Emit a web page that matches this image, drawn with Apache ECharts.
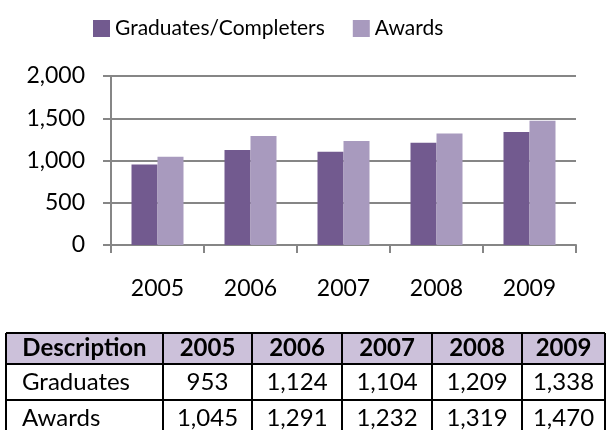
<!DOCTYPE html>
<html>
<head>
<meta charset="utf-8">
<script src="https://cdn.jsdelivr.net/npm/echarts@6/dist/echarts.min.js"></script>
<style>
html,body{margin:0;padding:0;background:#fff;}
#c{width:608px;height:430px;}
</style>
</head>
<body>
<div id="c"></div>
<script>
var categories = ['2005', '2006', '2007', '2008', '2009'];
var seriesNames = ['Graduates/Completers', 'Awards'];
var graduates = [953, 1124, 1104, 1209, 1338];
var awards = [1045, 1291, 1232, 1319, 1470];
var yMin = 0, yMax = 2000, yInterval = 500;
var tableHeaderFirst = 'Description';
var tableRowLabels = ['Graduates', 'Awards'];

var FONT = 'Lato';
var fmt = function (v) { return Number(v).toLocaleString('en-US'); };

// table layout
var colX = [6, 163, 252, 342, 432, 522, 605];
var rowY = [333, 364, 400, 437];
var graphics = [];
graphics.push({type: 'rect', silent: true, shape: {x: colX[0], y: rowY[0], width: colX[6] - colX[0], height: rowY[1] - rowY[0]}, style: {fill: '#CCC1DA'}});
var headers = [tableHeaderFirst].concat(categories);
var rows = [headers, [tableRowLabels[0]].concat(graduates.map(fmt)), [tableRowLabels[1]].concat(awards.map(fmt))];
rows.forEach(function (row, r) {
  row.forEach(function (txt, c) {
    var cy = (rowY[r] + rowY[r + 1]) / 2;
    var left = c === 0 && r > 0;
    graphics.push({
      type: 'text', silent: true,
      x: left ? colX[0] + 16 : (colX[c] + colX[c + 1]) / 2,
      y: cy,
      style: {text: String(txt), fill: '#000', font: (r === 0 ? 'bold ' : '') + '24px ' + FONT, align: left ? 'left' : 'center', verticalAlign: 'middle'}
    });
  });
});
rowY.forEach(function (y) {
  graphics.push({type: 'line', silent: true, shape: {x1: colX[0], y1: y, x2: colX[6], y2: y}, style: {stroke: '#000', lineWidth: 2}});
});
colX.forEach(function (x) {
  graphics.push({type: 'line', silent: true, shape: {x1: x, y1: rowY[0], x2: x, y2: rowY[3]}, style: {stroke: '#000', lineWidth: 2}});
});

var chart = echarts.init(document.getElementById('c'), null, {renderer: 'canvas'});
chart.setOption({
  animation: false,
  backgroundColor: '#fff',
  textStyle: {fontFamily: FONT},
  legend: {
    top: 13, left: 88,
    itemWidth: 17, itemHeight: 17, itemGap: 28,
    icon: 'rect',
    textStyle: {fontSize: 21, color: '#000', fontFamily: FONT},
    data: seriesNames
  },
  grid: {left: 111, right: 32, top: 76, bottom: 185, containLabel: false},
  xAxis: {
    type: 'category', data: categories,
    axisLine: {lineStyle: {color: '#868686', width: 2}},
    axisTick: {show: true, length: 8, lineStyle: {color: '#868686', width: 2}},
    axisLabel: {color: '#000', fontSize: 23, margin: 32, fontFamily: FONT}
  },
  yAxis: {
    type: 'value', min: yMin, max: yMax, interval: yInterval,
    axisLine: {show: true, lineStyle: {color: '#868686', width: 2}},
    axisTick: {show: true, length: 8, lineStyle: {color: '#868686', width: 2}},
    splitLine: {lineStyle: {color: '#868686', width: 2}},
    axisLabel: {color: '#000', fontSize: 23, margin: 26, fontFamily: FONT, formatter: function (v) { return fmt(v); }}
  },
  series: [
    {name: seriesNames[0], type: 'bar', data: graduates, barWidth: 26, barGap: '0%', itemStyle: {color: '#725A8F'}},
    {name: seriesNames[1], type: 'bar', data: awards, barWidth: 26, barGap: '0%', itemStyle: {color: '#A89ABE'}}
  ],
  graphic: graphics
});
</script>
</body>
</html>
